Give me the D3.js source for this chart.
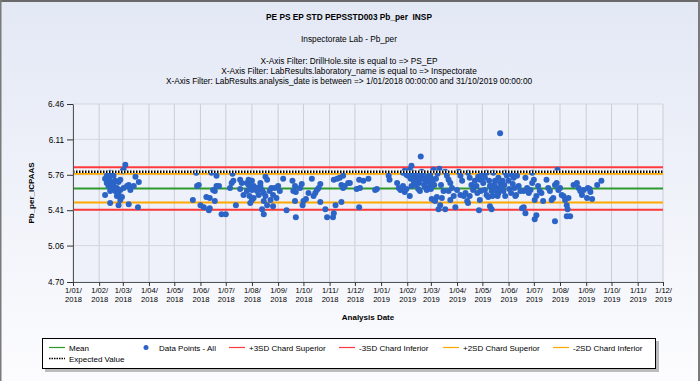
<!DOCTYPE html>
<html>
<head>
<meta charset="utf-8">
<script src="https://cdn.jsdelivr.net/npm/d3@7"></script>
<style>
  body { margin: 0; background: #fff; }
  svg { display: block; font-family: "Liberation Sans", Arial, sans-serif; }
</style>
</head>
<body>
<svg id="chart" width="700" height="381"></svg>
<script>
// titles
const chartTitle = "PE PS EP STD PEPSSTD003 Pb_per  INSP";
const chartSubtitle = "Inspectorate Lab - Pb_per";
const filterLines = [
  "X-Axis Filter: DrillHole.site is equal to => PS_EP",
  "X-Axis Filter: LabResults.laboratory_name is equal to => Inspectorate",
  "X-Axis Filter: LabResults.analysis_date is between => 1/01/2018 00:00:00 and 31/10/2019 00:00:00"
];
const yTitle = "Pb_per_ICPAAS";
const xTitle = "Analysis Date";

// axes
const yTickLabels = ["4.70", "5.06", "5.41", "5.76", "6.11", "6.46"];
const xStart = "2018-01-01", xEnd = "2019-12-01";

// control lines
const limitNames = ["Mean", "+3SD Chard Superior", "-3SD Chard Inferior", "+2SD Chard Superior", "-2SD Chard Inferior", "Expected Value"];
const limitValues = [5.625, 5.835, 5.415, 5.77, 5.485, 5.79];
const pointsName = "Data Points - All";

// data points [analysis date, value]
const dataPoints = [
  ["2018-03-04",5.86],["2018-03-02",5.81],["2018-03-01",5.80],["2018-02-14",5.78],["2018-02-10",5.75],["2018-02-08",5.72],
  ["2018-02-13",5.71],["2018-02-10",5.68],["2018-02-16",5.69],["2018-02-12",5.65],["2018-02-18",5.66],["2018-02-22",5.63],
  ["2018-02-20",5.60],["2018-02-26",5.61],["2018-02-24",5.57],["2018-02-28",5.54],["2018-02-26",5.51],["2018-02-14",5.60],
  ["2018-02-08",5.56],["2018-02-24",5.69],["2018-02-26",5.71],["2018-03-08",5.66],["2018-03-10",5.61],["2018-03-06",5.65],
  ["2018-03-16",5.74],["2018-03-20",5.69],["2018-03-14",5.65],["2018-02-14",5.48],["2018-02-24",5.46],["2018-03-08",5.47],
  ["2018-03-19",5.44],["2018-02-18",5.75],["2018-02-12",5.76],["2018-02-16",5.63],["2018-02-20",5.70],["2018-03-02",5.63],
  ["2018-02-22",5.55],
  ["2018-05-27",5.78],["2018-06-14",5.78],["2018-06-20",5.75],["2018-05-28",5.65],["2018-05-30",5.66],["2018-05-23",5.51],
  ["2018-06-01",5.46],["2018-06-05",5.44],["2018-06-08",5.54],["2018-06-12",5.53],["2018-06-18",5.50],["2018-06-12",5.43],
  ["2018-06-11",5.41],["2018-06-16",5.61],["2018-06-20",5.65],["2018-06-23",5.65],["2018-06-18",5.60],["2018-06-26",5.37],
  ["2018-07-01",5.37],
  ["2018-07-09",5.77],["2018-07-08",5.68],["2018-07-10",5.70],["2018-07-06",5.63],["2018-07-18",5.71],["2018-07-20",5.68],
  ["2018-07-18",5.62],["2018-07-22",5.56],["2018-07-13",5.46],["2018-07-26",5.68],["2018-07-28",5.66],["2018-07-30",5.65],
  ["2018-08-01",5.70],["2018-08-03",5.65],["2018-08-05",5.63],["2018-08-07",5.60],["2018-07-26",5.60],["2018-07-29",5.55],
  ["2018-08-01",5.51],["2018-08-03",5.53],["2018-07-30",5.48],["2018-08-17",5.74],["2018-08-19",5.71],["2018-08-11",5.65],
  ["2018-08-13",5.61],["2018-08-15",5.58],["2018-08-17",5.55],["2018-08-09",5.56],["2018-08-15",5.50],["2018-08-13",5.42],
  ["2018-08-15",5.37],["2018-08-22",5.60],["2018-08-24",5.63],["2018-08-26",5.56],["2018-08-23",5.51],["2018-08-19",5.46],
  ["2018-08-26",5.45],["2018-08-28",5.63],["2018-09-01",5.65],["2018-09-03",5.60],["2018-08-30",5.53],["2018-09-07",5.72],
  ["2018-09-11",5.41],["2018-08-07",5.63],["2018-08-01",5.61],["2018-08-11",5.68],["2018-07-28",5.71],
  ["2018-09-18",5.70],["2018-09-21",5.65],["2018-09-19",5.60],["2018-09-22",5.59],["2018-09-21",5.50],["2018-09-22",5.34],
  ["2018-09-27",5.63],["2018-09-29",5.67],["2018-10-01",5.50],["2018-09-30",5.46],["2018-10-04",5.52],["2018-10-07",5.58],
  ["2018-10-11",5.72],["2018-10-13",5.55],["2018-10-15",5.58],["2018-10-17",5.61],["2018-10-19",5.63],["2018-10-21",5.67],
  ["2018-10-21",5.49],["2018-10-27",5.42],["2018-10-29",5.34],["2018-11-06",5.38],["2018-11-05",5.34],["2018-11-08",5.46],
  ["2018-11-06",5.71],["2018-11-10",5.72],["2018-11-13",5.73],["2018-11-17",5.75],["2018-11-15",5.66],["2018-11-17",5.63],
  ["2018-11-15",5.49],["2018-11-19",5.65],["2018-11-23",5.68],
  ["2018-11-25",5.68],["2018-12-03",5.62],["2018-12-07",5.63],["2018-12-06",5.71],["2018-12-11",5.70],["2018-12-17",5.72],
  ["2018-12-06",5.44],["2018-12-25",5.61],["2018-12-27",5.62],["2019-01-10",5.75],["2019-01-11",5.71],
  ["2019-01-20",5.68],["2019-01-22",5.63],["2019-01-24",5.61],["2019-01-27",5.65],["2019-01-29",5.59],["2019-01-31",5.62],
  ["2019-02-04",5.55],["2019-02-06",5.65],["2019-01-27",5.78],["2019-01-29",5.80],["2019-01-31",5.76],["2019-02-02",5.75],
  ["2019-02-06",5.85],["2019-02-04",5.81],["2019-02-08",5.78],["2019-02-10",5.74],["2019-02-12",5.72],["2019-02-14",5.76],
  ["2019-02-16",5.73],["2019-02-18",5.75],["2019-02-20",5.78],["2019-02-22",5.71],["2019-02-24",5.73],["2019-02-26",5.70],
  ["2019-02-28",5.76],["2019-03-02",5.68],["2019-03-04",5.81],["2019-02-28",5.65],["2019-02-16",5.60],["2019-02-17",5.94],
  ["2019-03-04",5.51],["2019-03-02",5.52],["2019-03-06",5.50],["2019-03-08",5.54],["2019-03-10",5.42],["2019-03-12",5.46],
  ["2019-03-18",5.42],["2019-03-14",5.53],["2019-03-11",5.82],["2019-03-18",5.79],["2019-03-20",5.75],["2019-03-22",5.71],
  ["2019-03-24",5.68],["2019-03-22",5.60],["2019-03-26",5.63],["2019-03-24",5.51],["2019-03-28",5.55],["2019-03-30",5.44],
  ["2019-04-01",5.61],["2019-04-03",5.79],["2019-04-05",5.75],["2019-04-07",5.70],["2019-04-05",5.56],["2019-04-09",5.55],
  ["2019-04-11",5.58],["2019-04-13",5.50],["2019-04-14",5.48],["2019-04-14",5.78],["2019-04-16",5.73],["2019-04-18",5.66],
  ["2019-04-20",5.61],["2019-04-16",5.55],["2019-04-22",5.70],["2019-04-24",5.65],["2019-04-26",5.74],["2019-04-28",5.71],
  ["2019-04-28",5.51],["2019-04-27",5.41],["2019-04-30",5.76],["2019-05-02",5.68],["2019-05-04",5.61],["2019-05-06",5.56],
  ["2019-05-08",5.54],["2019-05-10",5.45],["2019-05-12",5.42],["2019-05-04",5.73],["2019-05-06",5.78],["2019-05-10",5.65],
  ["2019-05-12",5.60],["2019-05-14",5.78],["2019-05-16",5.70],["2019-05-18",5.63],["2019-05-20",5.58],["2019-05-20",5.73],
  ["2019-05-22",5.68],["2019-05-24",5.65],["2019-05-26",5.60],["2019-05-28",5.55],["2019-05-28",5.78],["2019-05-30",5.75],
  ["2019-06-01",5.70],["2019-05-22",6.17],["2019-06-05",5.76],["2019-06-07",5.73],["2019-06-09",5.55],["2019-06-11",5.75],
  ["2019-06-13",5.65],["2019-06-15",5.60],["2019-06-17",5.43],["2019-06-19",5.44],["2019-06-21",5.38],["2019-06-19",5.60],
  ["2019-06-21",5.73],["2019-06-23",5.63],["2019-06-25",5.58],["2019-06-27",5.61],["2019-06-29",5.78],["2019-06-29",5.68],
  ["2019-07-01",5.71],["2019-07-02",5.51],["2019-07-02",5.32],["2019-07-04",5.36],["2019-07-04",5.55],["2019-07-06",5.65],
  ["2019-07-08",5.60],["2019-07-10",5.58],["2019-07-12",5.50],["2019-07-16",5.71],["2019-07-18",5.63],["2019-07-20",5.60],
  ["2019-07-22",5.51],["2019-07-24",5.53],["2019-07-26",5.66],["2019-07-28",5.68],["2019-07-26",5.30],["2019-07-29",5.81],
  ["2019-07-30",5.61],["2019-08-01",5.63],["2019-08-03",5.56],["2019-08-05",5.55],["2019-08-07",5.51],["2019-08-09",5.46],
  ["2019-08-10",5.42],["2019-08-11",5.53],["2019-08-09",5.35],["2019-08-13",5.35],["2019-08-17",5.66],["2019-08-21",5.68],
  ["2019-08-23",5.63],["2019-08-25",5.60],["2019-08-27",5.56],["2019-08-29",5.61],["2019-09-02",5.53],["2019-09-03",5.63],
  ["2019-09-05",5.62],["2019-09-06",5.59],["2019-09-08",5.52],["2019-09-14",5.66],["2019-09-19",5.70],
  ["2019-02-05",5.72],["2019-02-09",5.69],["2019-02-11",5.66],["2019-02-13",5.70],["2019-02-15",5.68],["2019-02-19",5.72],
  ["2019-02-21",5.66],["2019-02-23",5.69],["2019-02-25",5.74],["2019-02-27",5.71],["2019-03-01",5.73],["2019-03-03",5.69],
  ["2019-03-05",5.66],["2019-02-07",5.77],["2019-02-18",5.79],["2019-02-22",5.64],["2019-03-07",5.72],["2019-03-09",5.77],
  ["2019-02-14",5.62],["2019-02-24",5.61],["2019-03-01",5.62],["2019-03-13",5.66],["2019-03-16",5.60],
  ["2019-05-15",5.66],["2019-05-17",5.60],["2019-05-19",5.55],["2019-05-21",5.62],["2019-05-25",5.70],["2019-05-27",5.66],
  ["2019-06-02",5.62],["2019-06-04",5.58],["2019-06-06",5.67],["2019-06-08",5.63],["2019-06-10",5.56],["2019-05-09",5.70],
  ["2019-05-11",5.65],["2019-05-13",5.55],["2019-04-29",5.60],["2019-04-21",5.64],["2019-04-25",5.58]
];

// styles
const lineColors = {
  "Mean": "#2e9a2e",
  "+3SD Chard Superior": "#ff3b3b",
  "-3SD Chard Inferior": "#ff3b3b",
  "+2SD Chard Superior": "#ffa800",
  "-2SD Chard Inferior": "#ffa800",
  "Expected Value": "#000"
};
const dotColor = "#2b64c6";

const width = 700, height = 381;
const plot = {left: 73, right: 663, top: 104, bottom: 282};
const parseDate = d3.timeParse("%Y-%m-%d");

const svg = d3.select("#chart");

// fond
const defs = svg.append("defs");
const bg = defs.append("linearGradient").attr("id", "bgGrad").attr("x1", 0).attr("y1", 0).attr("x2", 0).attr("y2", 1);
bg.append("stop").attr("offset", "0%").attr("stop-color", "#e3e8f5");
bg.append("stop").attr("offset", "100%").attr("stop-color", "#fcfcfe");
svg.append("rect").attr("width", width).attr("height", height).attr("fill", "url(#bgGrad)");
svg.append("rect").attr("x", 0).attr("y", 0).attr("width", width).attr("height", 2).attr("fill", "#6a6a6a");
svg.append("rect").attr("x", 0).attr("y", 0).attr("width", 1.5).attr("height", height).attr("fill", "#7a7a7a");
svg.append("rect").attr("x", width - 2).attr("y", 0).attr("width", 2).attr("height", height).attr("fill", "#7a7a7a");

// titles
svg.append("text").attr("x", 349).attr("y", 20).attr("text-anchor", "middle")
  .style("font-size", "8.3px").style("font-weight", "bold").style("white-space", "pre").text(chartTitle);
svg.append("text").attr("x", 349).attr("y", 42).attr("text-anchor", "middle")
  .style("font-size", "8.3px").text(chartSubtitle);
filterLines.forEach((t, i) => {
  svg.append("text").attr("x", 349).attr("y", 64 + i * 10).attr("text-anchor", "middle")
    .style("font-size", "8.3px").text(t);
});

// scales
const x = d3.scaleTime().domain([parseDate(xStart), parseDate(xEnd)]).range([plot.left, plot.right]);
const y = d3.scaleLinear().domain([+yTickLabels[0], +yTickLabels[yTickLabels.length - 1]]).range([plot.bottom, plot.top]);
const monthTicks = d3.timeMonth.range(parseDate(xStart), d3.timeDay.offset(parseDate(xEnd), 1));
const yTickValues = yTickLabels.map(Number);

// zone du graphique + grille
svg.append("rect").attr("x", plot.left).attr("y", plot.top)
  .attr("width", plot.right - plot.left).attr("height", plot.bottom - plot.top)
  .attr("fill", "#eef1f9");
const grid = svg.append("g");
grid.selectAll("line.v").data(monthTicks).enter().append("line")
  .attr("x1", d => x(d)).attr("x2", d => x(d)).attr("y1", plot.top).attr("y2", plot.bottom)
  .attr("stroke", "#c9cdd6").attr("stroke-width", 1);
grid.selectAll("line.h").data(yTickValues).enter().append("line")
  .attr("x1", plot.left).attr("x2", plot.right).attr("y1", d => y(d)).attr("y2", d => y(d))
  .attr("stroke", "#d3d7df").attr("stroke-width", 1);

// lignes de controle
const limits = limitNames.map((n, i) => ({name: n, value: limitValues[i]}));
svg.append("g").selectAll("line")
  .data(limits.filter(d => d.name !== "Expected Value"))
  .enter().append("line")
  .attr("x1", plot.left).attr("x2", plot.right)
  .attr("y1", d => y(d.value)).attr("y2", d => y(d.value))
  .attr("stroke", d => lineColors[d.name]).attr("stroke-width", 2);

// points
svg.append("g").selectAll("circle")
  .data(dataPoints)
  .enter().append("circle")
  .attr("cx", d => x(parseDate(d[0])))
  .attr("cy", d => y(d[1]))
  .attr("r", 3)
  .attr("fill", dotColor);

// valeur attendue (pointilles)
const ev = limits.find(d => d.name === "Expected Value");
svg.append("line").attr("x1", plot.left).attr("x2", plot.right)
  .attr("y1", y(ev.value)).attr("y2", y(ev.value))
  .attr("stroke", "#fff").attr("stroke-width", 2.5);
svg.append("line").attr("x1", plot.left).attr("x2", plot.right)
  .attr("y1", y(ev.value)).attr("y2", y(ev.value))
  .attr("stroke", "#000").attr("stroke-width", 2.5).attr("stroke-dasharray", "1.5,1.5");

// axes
const fmtDay = d3.timeFormat("%-d/%m/"), fmtYear = d3.timeFormat("%Y");
const xAxis = svg.append("g").attr("transform", `translate(0,${plot.bottom})`)
  .call(d3.axisBottom(x).tickValues(monthTicks).tickSize(4).tickSizeOuter(0).tickFormat(""));
xAxis.selectAll(".tick").append("text")
  .attr("fill", "#000").attr("text-anchor", "middle").style("font-size", "7.6px")
  .each(function(d) {
    const t = d3.select(this);
    t.append("tspan").attr("x", 0).attr("y", 11).text(fmtDay(d));
    t.append("tspan").attr("x", 0).attr("y", 20).text(fmtYear(d));
  });

const yAxis = svg.append("g").attr("transform", `translate(${plot.left},0)`)
  .call(d3.axisLeft(y).tickValues(yTickValues).tickSize(6).tickSizeOuter(0).tickPadding(3)
    .tickFormat((d, i) => yTickLabels[i]));
yAxis.selectAll("text").style("font-size", "8.2px").attr("fill", "#000");

[xAxis, yAxis].forEach(a => {
  a.select(".domain").attr("stroke", "#555");
  a.selectAll(".tick line").attr("stroke", "#333");
});

// titres des axes
svg.append("text").attr("x", (plot.left + plot.right) / 2).attr("y", 320).attr("text-anchor", "middle")
  .style("font-size", "8px").style("font-weight", "bold").text(xTitle);
svg.append("text").attr("transform", `translate(34,${(plot.top + plot.bottom) / 2}) rotate(-90)`)
  .attr("text-anchor", "middle").style("font-size", "8px").style("font-weight", "bold").text(yTitle);

// legende
const legend = svg.append("g");
legend.append("rect").attr("x", 45).attr("y", 341).attr("width", 614).attr("height", 31).attr("fill", "#a0a0a0").attr("opacity", 0.7);
legend.append("rect").attr("x", 42.5).attr("y", 338.5).attr("width", 613).attr("height", 30).attr("fill", "#fff").attr("stroke", "#000");

const legendItems = [
  {name: limitNames[0], x: 49, row: 0},
  {name: pointsName, x: 140, row: 0},
  {name: limitNames[1], x: 229, row: 0},
  {name: limitNames[2], x: 339, row: 0},
  {name: limitNames[3], x: 443, row: 0},
  {name: limitNames[4], x: 553, row: 0},
  {name: limitNames[5], x: 49, row: 1}
];
legendItems.forEach(it => {
  const ly = 347.5 + it.row * 11;
  const g = legend.append("g");
  if (it.name === pointsName) {
    g.append("circle").attr("cx", it.x + 6).attr("cy", ly).attr("r", 2.5).attr("fill", dotColor);
    g.append("text").attr("x", it.x + 19).attr("y", ly + 3).style("font-size", "8px").text(it.name);
  } else {
    const ln = g.append("line").attr("x1", it.x).attr("x2", it.x + 16).attr("y1", ly).attr("y2", ly)
      .attr("stroke", lineColors[it.name]).attr("stroke-width", 1.2);
    if (it.name === "Expected Value") ln.attr("stroke-dasharray", "1.5,1").attr("stroke-width", 1.6);
    g.append("text").attr("x", it.x + 20).attr("y", ly + 3).style("font-size", "8px").text(it.name);
  }
});
</script>
</body>
</html>
